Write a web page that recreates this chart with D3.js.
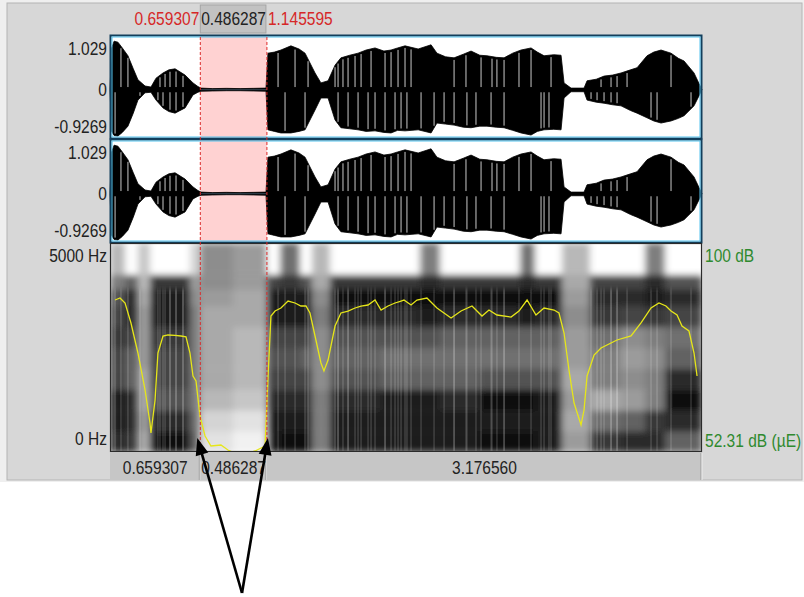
<!DOCTYPE html>
<html>
<head>
<meta charset="utf-8">
<script src="https://cdn.jsdelivr.net/npm/d3@7.9.0/dist/d3.min.js"></script>
<style>
  body { margin: 0; background: #fff; }
  svg text { font-family: "Liberation Sans", Arial, sans-serif; font-size: 18.5px; }
</style>
</head>
<body>
<svg id="chart" width="804" height="597"></svg>
<script>
// parts of the sound (s): before selection, selection, after selection
const partDurations = [0.659307, 0.486287, 3.176560];
const selStart = 0.659307;
const selEnd = 1.145595;
const ampTicks = [1.029, 0, -0.9269];
const freqLabels = ['5000 Hz', '0 Hz'];
const dbLabels = ['100 dB', '52.31 dB (\u00b5E)'];

// waveform envelope (same for both channels)
const wavT  = [0, 0.012, 0.030, 0.058, 0.090, 0.131, 0.170, 0.204, 0.256, 0.299, 0.336, 0.387, 0.430, 0.475, 0.548, 0.606, 0.642, 0.664,
  0.75, 0.85, 0.95, 1.05, 1.139, 1.153, 1.200, 1.248, 1.321, 1.380, 1.424, 1.497, 1.540, 1.592, 1.643, 1.686, 1.750, 1.811, 1.870,
  1.935, 2.000, 2.052, 2.100, 2.154, 2.250, 2.344, 2.387, 2.450, 2.512, 2.580, 2.636, 2.700, 2.752, 2.820, 2.877, 2.940, 3.001,
  3.074, 3.120, 3.169, 3.240, 3.293, 3.315, 3.366, 3.461, 3.483, 3.550, 3.607, 3.670, 3.731, 3.800, 3.848, 3.921, 3.970, 4.023,
  4.096, 4.150, 4.191, 4.264, 4.300, 4.322];
const wavHi = [0, 0.80, 0.93, 0.91, 0.80, 0.65, 0.40, 0.19, 0.07, 0.05, 0.22, 0.32, 0.38, 0.40, 0.28, 0.13, 0.06, 0.03,
  0.02, 0.025, 0.02, 0.025, 0.03, 0.70, 0.72, 0.76, 0.84, 0.78, 0.70, 0.32, 0.13, 0.17, 0.47, 0.61, 0.66, 0.70, 0.76,
  0.80, 0.74, 0.76, 0.80, 0.84, 0.78, 0.86, 0.70, 0.63, 0.61, 0.68, 0.74, 0.66, 0.65, 0.62, 0.61, 0.70, 0.76,
  0.80, 0.72, 0.65, 0.67, 0.66, 0.13, 0.03, 0.03, 0.17, 0.20, 0.26, 0.28, 0.32, 0.38, 0.42, 0.65, 0.72, 0.76,
  0.70, 0.60, 0.55, 0.32, 0.12, 0];
const wavLo = [0, -0.80, -0.88, -0.89, -0.82, -0.70, -0.45, -0.20, -0.06, -0.05, -0.20, -0.35, -0.42, -0.45, -0.35, -0.10, -0.05, -0.03,
  -0.025, -0.02, -0.02, -0.025, -0.03, -0.77, -0.80, -0.83, -0.83, -0.80, -0.77, -0.39, -0.16, -0.16, -0.58, -0.73, -0.75, -0.77, -0.80,
  -0.79, -0.82, -0.83, -0.78, -0.79, -0.77, -0.83, -0.64, -0.66, -0.68, -0.72, -0.73, -0.70, -0.70, -0.72, -0.73, -0.78, -0.83,
  -0.87, -0.80, -0.77, -0.76, -0.77, -0.16, -0.04, -0.04, -0.20, -0.24, -0.26, -0.29, -0.31, -0.40, -0.45, -0.54, -0.60, -0.64,
  -0.60, -0.55, -0.50, -0.31, -0.12, 0];

// light gaps inside the waveform (s)
const gapsUpper = [0.080, 0.131, 0.365, 0.402, 0.438, 0.482, 0.533, 1.227, 1.351, 1.446, 1.643, 1.665, 1.701, 1.738, 1.789,
  1.833, 1.906, 2.008, 2.052, 2.103, 2.154, 2.198, 2.512, 2.599, 2.709, 2.789, 2.825, 2.877, 2.986, 3.074, 3.220, 3.585,
  3.658, 3.702, 3.775, 4.096];
const gapsLower = [0.037, 0.219, 0.350, 0.387, 0.438, 0.482, 0.533, 1.278, 1.424, 1.665, 1.738, 1.811, 1.884, 1.935, 2.008,
  2.081, 2.125, 2.168, 2.271, 2.366, 2.439, 2.512, 2.606, 2.672, 2.782, 2.877, 3.147, 3.169, 3.205, 3.512, 3.556, 3.607,
  3.658, 3.702, 3.950, 3.994, 4.242];

// spectrogram: column edges (s), band edges (Hz), darkness per column from 0 Hz upward
const specEdges = [0, 0.110, 0.204, 0.292, 0.584, 0.657, 0.898, 1.146, 1.241, 1.387, 1.475, 1.606, 1.971, 2.263, 2.410,
  2.701, 2.993, 3.103, 3.300, 3.504, 3.723, 3.906, 4.052, 4.322];
const bandEdges = [0, 500, 1000, 1500, 2000, 2500, 3000, 3500, 3900, 4250, 5000];
const specDark = [
  [0.80, 0.85, 0.85, 0.70, 0.70, 0.75, 0.70, 0.65, 0.50, 0.30],
  [0.75, 0.80, 0.80, 0.60, 0.60, 0.70, 0.80, 0.80, 0.60, 0.00],
  [0.35, 0.40, 0.35, 0.35, 0.40, 0.40, 0.40, 0.35, 0.30, 0.25],
  [0.90, 0.80, 0.65, 0.70, 0.70, 0.75, 0.85, 0.85, 0.75, 0.00],
  [0.60, 0.55, 0.50, 0.50, 0.50, 0.50, 0.50, 0.45, 0.40, 0.20],
  [0.15, 0.20, 0.30, 0.35, 0.35, 0.35, 0.35, 0.40, 0.45, 0.45],
  [0.10, 0.15, 0.25, 0.30, 0.30, 0.30, 0.35, 0.35, 0.40, 0.40],
  [0.85, 0.85, 0.80, 0.70, 0.65, 0.70, 0.85, 0.85, 0.70, 0.00],
  [0.90, 0.85, 0.80, 0.70, 0.65, 0.70, 0.85, 0.85, 0.75, 0.55],
  [0.90, 0.85, 0.80, 0.70, 0.60, 0.70, 0.85, 0.85, 0.65, 0.05],
  [0.50, 0.50, 0.50, 0.45, 0.45, 0.45, 0.50, 0.45, 0.35, 0.30],
  [0.85, 0.85, 0.80, 0.65, 0.60, 0.65, 0.80, 0.90, 0.75, 0.00],
  [0.85, 0.85, 0.85, 0.60, 0.55, 0.65, 0.80, 0.90, 0.75, 0.00],
  [0.85, 0.85, 0.85, 0.60, 0.55, 0.65, 0.85, 0.90, 0.80, 0.50],
  [0.85, 0.85, 0.80, 0.60, 0.55, 0.60, 0.80, 0.90, 0.75, 0.00],
  [0.90, 0.85, 0.95, 0.65, 0.55, 0.60, 0.80, 0.90, 0.75, 0.00],
  [0.90, 0.85, 0.95, 0.65, 0.55, 0.60, 0.85, 0.90, 0.80, 0.55],
  [0.85, 0.85, 0.85, 0.65, 0.55, 0.60, 0.80, 0.90, 0.75, 0.00],
  [0.40, 0.35, 0.40, 0.35, 0.40, 0.40, 0.45, 0.40, 0.35, 0.30],
  [0.75, 0.55, 0.35, 0.50, 0.50, 0.55, 0.75, 0.80, 0.70, 0.00],
  [0.80, 0.60, 0.40, 0.45, 0.40, 0.45, 0.70, 0.80, 0.70, 0.00],
  [0.80, 0.75, 0.50, 0.50, 0.45, 0.50, 0.75, 0.85, 0.80, 0.50],
  [0.60, 0.80, 0.90, 0.80, 0.60, 0.55, 0.70, 0.80, 0.65, 0.00]
];

// intensity contour (s, dB)
const intT = [0.037, 0.073, 0.110, 0.153, 0.204, 0.256, 0.292, 0.299, 0.329, 0.350, 0.387, 0.423, 0.475, 0.518, 0.555, 0.584,
  0.606, 0.628, 0.657, 0.694, 0.737, 0.810, 0.861, 0.950, 1.059, 1.132, 1.154, 1.175, 1.205, 1.248, 1.300, 1.351, 1.394,
  1.431, 1.460, 1.497, 1.540, 1.562, 1.592, 1.643, 1.686, 1.738, 1.789, 1.833, 1.884, 1.935, 1.979, 2.030, 2.081, 2.125,
  2.146, 2.198, 2.241, 2.314, 2.387, 2.490, 2.563, 2.643, 2.716, 2.767, 2.825, 2.928, 2.986, 3.045, 3.110, 3.169, 3.242,
  3.278, 3.315, 3.351, 3.388, 3.439, 3.461, 3.483, 3.534, 3.585, 3.658, 3.702, 3.804, 3.877, 3.950, 4.008, 4.059, 4.096,
  4.140, 4.176, 4.227, 4.264, 4.286];
const intDb = [86.99, 87.45, 86.31, 81.75, 74.90, 66.46, 58.93, 56.65, 64.18, 74.90, 78.78, 79.01, 78.90, 78.78, 78.60, 74.90,
  69.65, 68.51, 60.52, 55.96, 53.68, 53.91, 52.77, 51.50, 52.54, 53.68, 69.65, 83.34, 84.48, 85.17, 86.76, 86.31, 85.62,
  85.62, 84.03, 78.78, 72.62, 70.79, 73.30, 81.06, 84.03, 84.48, 85.17, 85.62, 85.85, 86.99, 84.71, 85.62, 86.31, 86.76,
  86.99, 85.85, 86.99, 87.45, 85.17, 82.89, 84.48, 85.62, 83.34, 84.71, 83.57, 83.11, 84.48, 86.99, 83.57, 85.17, 84.71,
  84.03, 79.46, 71.02, 63.49, 58.47, 61.89, 69.65, 74.44, 76.04, 77.18, 77.87, 78.78, 81.75, 85.17, 86.31, 85.62, 84.48,
  83.57, 81.06, 79.92, 74.90, 69.65];

const svg = d3.select('#chart');
const total = d3.sum(partDurations);
const left = 110, right = 702;
const x = d3.scaleLinear().domain([0, total]).range([left, right]);

const panels = [{ top: 35, bottom: 139 }, { top: 139, bottom: 243 }];
const specTop = 243, specBottom = 452;
const yFreq = d3.scaleLinear().domain([0, 5000]).range([specBottom, specTop]);
const yDb = d3.scaleLinear().domain([52.31, 100]).range([specBottom, specTop]);
const grey = d3.scaleLinear().domain([0.05, 0.9]).range(['#ffffff', '#0c0c0c']).clamp(true);

// text is a bit narrow and tall in the screenshot
function label(px, py, str, anchor, fill) {
  return svg.append('text')
    .attr('transform', `translate(${px},${py}) scale(0.84,1)`)
    .attr('text-anchor', anchor).attr('fill', fill).text(str);
}

// window background
svg.append('rect').attr('x', 0).attr('y', 0).attr('width', 804).attr('height', 482).attr('fill', '#efefef');
svg.append('rect').attr('x', 7).attr('y', 3).attr('width', 795).attr('height', 477)
  .attr('fill', '#d7d7d7').attr('stroke', '#b4b4b4');

// top selection labels
svg.append('rect').attr('x', x(selStart)).attr('y', 5).attr('width', x(selEnd) - x(selStart) - 1).attr('height', 28)
  .attr('fill', '#c2c2c2').attr('stroke', '#a5a5a5');
label(x(selStart) - 1, 25, selStart.toFixed(6), 'end', '#d62828');
label((x(selStart) + x(selEnd)) / 2, 25, partDurations[1].toFixed(6), 'middle', '#222');
label(x(selEnd) + 1, 25, selEnd.toFixed(6), 'start', '#d62828');

// waveforms
const hiAt = d3.scaleLinear().domain(wavT).range(wavHi);
const loAt = d3.scaleLinear().domain(wavT).range(wavLo);
const env = wavT.map((t, i) => ({ t, hi: wavHi[i], lo: wavLo[i] }));

panels.forEach((p) => {
  const y = d3.scaleLinear().domain([-0.9269, 1.029]).range([p.bottom - 1, p.top + 1]);
  svg.append('rect').attr('x', left).attr('y', p.top).attr('width', right - left).attr('height', p.bottom - p.top)
    .attr('fill', '#fff');
  svg.append('rect').attr('x', x(selStart)).attr('y', p.top).attr('width', x(selEnd) - x(selStart))
    .attr('height', p.bottom - p.top).attr('fill', '#ffd2d2');

  const area = d3.area().x((d) => x(d.t)).y0((d) => y(d.lo)).y1((d) => y(d.hi));
  svg.append('path').datum(env).attr('d', area).attr('fill', '#000').attr('stroke', '#000').attr('stroke-width', 0.8);
  // zero line noise in the selection
  svg.append('line').attr('x1', x(selStart)).attr('x2', x(selEnd)).attr('y1', y(0)).attr('y2', y(0))
    .attr('stroke', '#2a3a45').attr('stroke-width', 1.4);

  const g = svg.append('g').attr('stroke', '#c9c9c9').attr('stroke-width', 1);
  gapsUpper.forEach((t) => {
    g.append('line').attr('x1', x(t)).attr('x2', x(t)).attr('y1', y(0.05)).attr('y2', y(hiAt(t) - 0.04));
  });
  gapsLower.forEach((t) => {
    g.append('line').attr('x1', x(t)).attr('x2', x(t)).attr('y1', y(-0.05)).attr('y2', y(loAt(t) + 0.04));
  });

  // axis labels
  const dys = [18.5, 6.5, -5.5];
  ampTicks.forEach((v, i) => label(107, y(v) + dys[i], v === 0 ? '0' : String(v), 'end', '#222'));

  svg.append('rect').attr('x', left + 0.5).attr('y', p.top + 0.5).attr('width', right - left - 1)
    .attr('height', p.bottom - p.top - 1).attr('fill', 'none').attr('stroke', '#123f5c').attr('stroke-width', 2);
  svg.append('rect').attr('x', left + 2).attr('y', p.top + 2).attr('width', right - left - 4)
    .attr('height', p.bottom - p.top - 4).attr('fill', 'none').attr('stroke', '#55c3ee').attr('stroke-width', 1);
});

// spectrogram
const defs = svg.append('defs');
defs.append('clipPath').attr('id', 'specClip').append('rect')
  .attr('x', left).attr('y', specTop).attr('width', right - left).attr('height', specBottom - specTop);
const blur = defs.append('filter').attr('id', 'specBlur')
  .attr('x', '-5%').attr('y', '-5%').attr('width', '110%').attr('height', '110%');
blur.append('feGaussianBlur').attr('stdDeviation', '3.5 3').attr('edgeMode', 'duplicate');
const fine = defs.append('filter').attr('id', 'fineBlur');
fine.append('feGaussianBlur').attr('stdDeviation', '0.7 2');

svg.append('rect').attr('x', left).attr('y', specTop).attr('width', right - left).attr('height', specBottom - specTop)
  .attr('fill', '#fff');
const specG = svg.append('g').attr('clip-path', 'url(#specClip)');
const cells = specG.append('g').attr('filter', 'url(#specBlur)');
specDark.forEach((col, i) => {
  col.forEach((d, j) => {
    cells.append('rect')
      .attr('x', x(specEdges[i]))
      .attr('y', yFreq(bandEdges[j + 1]))
      .attr('width', x(specEdges[i + 1]) - x(specEdges[i]) + 0.5)
      .attr('height', yFreq(bandEdges[j]) - yFreq(bandEdges[j + 1]) + 0.5)
      .attr('fill', grey(d));
  });
});
// glottal striations
const stri = specG.append('g').attr('filter', 'url(#fineBlur)').attr('stroke', '#fff').attr('stroke-opacity', 0.16)
  .attr('stroke-width', 1.5);
gapsUpper.concat(gapsLower).forEach((t) => {
  stri.append('line').attr('x1', x(t)).attr('x2', x(t)).attr('y1', yFreq(0)).attr('y2', yFreq(3900));
});

// intensity contour
const intData = intT.map((t, i) => ({ t, db: intDb[i] }));
specG.append('path').datum(intData)
  .attr('d', d3.line().x((d) => x(d.t)).y((d) => yDb(d.db)))
  .attr('fill', 'none').attr('stroke', '#e6e619').attr('stroke-width', 1.3);

svg.append('rect').attr('x', left + 0.5).attr('y', specTop + 0.5).attr('width', right - left - 1)
  .attr('height', specBottom - specTop - 1).attr('fill', 'none').attr('stroke', '#2b2b2b').attr('stroke-width', 1.2);

// selection boundaries
[selStart, selEnd].forEach((t) => {
  svg.append('line').attr('x1', x(t)).attr('x2', x(t)).attr('y1', panels[0].top + 2).attr('y2', specBottom)
    .attr('stroke', '#dd2a2a').attr('stroke-width', 1).attr('stroke-dasharray', '3,2');
});

// spectrogram labels
label(107, yFreq(5000) + 19, freqLabels[0], 'end', '#222');
label(107, yFreq(0) - 7.5, freqLabels[1], 'end', '#222');
label(705, yDb(100) + 19, dbLabels[0], 'start', '#2f8a2f');
label(705, yDb(52.31) - 5.5, dbLabels[1], 'start', '#2f8a2f');

// bottom duration bar
const bounds = [0, selStart, selEnd, total];
partDurations.forEach((d, i) => {
  const x0 = x(bounds[i]), x1 = x(bounds[i + 1]);
  svg.append('rect').attr('x', x0).attr('y', 453).attr('width', x1 - x0).attr('height', 27)
    .attr('fill', '#c6c6c6');
  svg.append('line').attr('x1', x1 - 1).attr('x2', x1 - 1).attr('y1', 453).attr('y2', 480)
    .attr('stroke', '#9a9a9a');
  svg.append('line').attr('x1', x1).attr('x2', x1).attr('y1', 453).attr('y2', 480)
    .attr('stroke', '#ececec');
  label((x0 + x1) / 2, 474, d.toFixed(6), 'middle', '#222');
});

// annotation arrows
const base = { x: 242, y: 593 };
[[selStart, -3], [selEnd, 1]].forEach(([t, off]) => {
  const tip = { x: x(t) + off, y: specBottom - 14 };
  const dx = tip.x - base.x, dy = tip.y - base.y, len = Math.hypot(dx, dy);
  const ux = dx / len, uy = dy / len, nx = -uy, ny = ux;
  const L = 17, W = 6.5;
  svg.append('line').attr('x1', base.x).attr('y1', base.y)
    .attr('x2', tip.x - ux * L * 0.8).attr('y2', tip.y - uy * L * 0.8)
    .attr('stroke', '#000').attr('stroke-width', 2.6);
  svg.append('path')
    .attr('d', `M${tip.x},${tip.y}L${tip.x - ux * L + nx * W},${tip.y - uy * L + ny * W}` +
      `L${tip.x - ux * L - nx * W},${tip.y - uy * L - ny * W}Z`)
    .attr('fill', '#000');
});
</script>
</body>
</html>
